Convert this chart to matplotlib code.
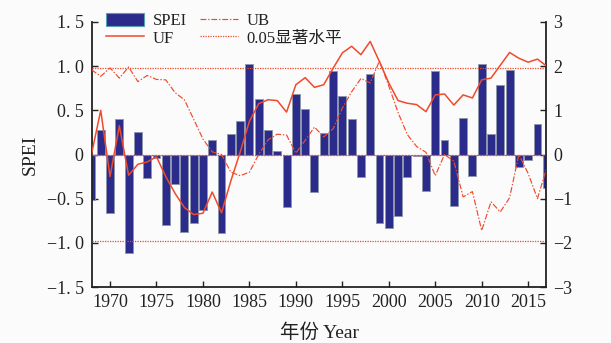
import matplotlib
matplotlib.use('Agg')
import matplotlib.pyplot as plt
from matplotlib.patches import Patch
from matplotlib.lines import Line2D

# ---------------- data ----------------
years = list(range(1968, 2018))
spei = [-0.52, 0.28, -0.66, 0.40, -1.11, 0.25, -0.265, -0.04, -0.80, -0.33,
        -0.875, -0.77, -0.63, 0.16, -0.89, 0.23, 0.38, 1.02, 0.63, 0.28,
        0.04, -0.59, 0.68, 0.51, -0.42, 0.24, 0.95, 0.66, 0.405, -0.26,
        0.91, -0.77, -0.83, -0.70, -0.25, -0.02, -0.41, 0.95, 0.16, -0.58,
        0.41, -0.24, 1.03, 0.235, 0.79, 0.96, -0.14, -0.065, 0.35, -0.38]
uf = [0.0, 1.0, -0.5, 0.65, -0.47, -0.22, -0.17, -0.05, -0.5, -0.88,
      -1.2, -1.36, -1.33, -0.85, -1.32, -0.6, 0.05, 0.75, 1.15, 1.24,
      1.22, 0.96, 1.58, 1.74, 1.52, 1.58, 1.95, 2.3, 2.45, 2.26,
      2.56, 2.1, 1.62, 1.22, 1.16, 1.13, 0.97, 1.35, 1.37, 1.12,
      1.35, 1.28, 1.69, 1.73, 2.02, 2.31, 2.18, 2.09, 2.16, 2.0]
ub = [1.92, 1.77, 1.96, 1.73, 1.98, 1.65, 1.79, 1.70, 1.69, 1.40,
      1.24, 0.80, 0.35, 0.06, 0.0, -0.40, -0.48, -0.40, 0.0, 0.33,
      0.46, 0.44, 0.03, 0.32, 0.62, 0.40, 0.58, 1.05, 1.42, 1.72,
      1.62, 2.12, 1.55, 0.95, 0.45, 0.18, 0.05, -0.48, 0.0, -0.15,
      -0.96, -0.84, -1.72, -1.07, -1.30, -0.98, 0.0, -0.43, -1.0, -0.3]
sig_level = 1.96

x_ticks = [1970, 1975, 1980, 1985, 1990, 1995, 2000, 2005, 2010, 2015]
left_ticks = [-1.5, -1.0, -0.5, 0, 0.5, 1.0, 1.5]
left_labels = ['\u22121. 5', '\u22121. 0', '\u22120. 5', '0', '0. 5', '1. 0', '1. 5']
right_ticks = [-3, -2, -1, 0, 1, 2, 3]
right_labels = ['\u22123', '\u22122', '\u22121', '0', '1', '2', '3']

legend_labels = ['SPEI', 'UF', 'UB', '0.05显著水平']
xlabel = '年份 Year'
ylabel = 'SPEI'

# ---------------- style ----------------
plt.rcParams['font.family'] = ['Liberation Serif', 'Noto Sans CJK SC']
plt.rcParams['axes.unicode_minus'] = True
red = '#f04a2c'
bar_col = '#2b2b8c'
ub_dash = (0, (5, 1.5, 1.2, 1.5))

fig = plt.figure(figsize=(6.11, 3.43), dpi=100)
fig.patch.set_facecolor('#fbfbfb')
ax = fig.add_axes([92/611, 1-287/343, (546-92)/611, (287-22)/343])
ax.set_facecolor('none')

ax.bar(years, spei, width=0.85, color=bar_col, edgecolor='#8d96a8',
       linewidth=0.6, zorder=2)
ax.set_xlim(1968.06, 2016.92)
ax.set_ylim(-1.5, 1.5)

ax2 = ax.twinx()
ax2.set_ylim(-3, 3)
ax2.plot(years, uf, color=red, lw=1.1, zorder=3)
ax2.plot(years, ub, color=red, lw=0.85, ls=ub_dash, zorder=3)
ax2.axhline(sig_level, color=red, lw=0.9, ls=(0, (1, 1)), zorder=1)
ax2.axhline(-sig_level, color=red, lw=0.9, ls=(0, (1, 1)), zorder=1)
ax2.axhline(0, color=red, lw=0.9, ls=(0, (1.5, 1)), zorder=4)

# ticks
ax.set_xticks(x_ticks)
ax.set_xticklabels([str(t) for t in x_ticks])
ax.set_yticks(left_ticks)
ax.set_yticklabels(left_labels)
ax2.set_yticks(right_ticks)
ax2.set_yticklabels(right_labels)

for a in (ax, ax2):
    a.tick_params(direction='in', length=4, width=1.0, labelsize=13, colors='#222222')
    a.spines['top'].set_visible(False)
    for s in a.spines.values():
        s.set_linewidth(1.3)
        s.set_color('#222222')
ax.tick_params(axis='y', pad=6)
ax.tick_params(axis='x', pad=5)
ax2.tick_params(axis='y', pad=5)
ax2.spines['left'].set_visible(False)
ax2.spines['bottom'].set_visible(False)
ax.spines['right'].set_visible(False)

ax.set_ylabel(ylabel, fontsize=14, color='#222222')
ax.yaxis.set_label_coords(-0.118, 0.5)
ax.set_xlabel(xlabel, fontsize=14, color='#222222', labelpad=9)

handles = [Patch(facecolor=bar_col, edgecolor='#5aa0b0', lw=0.8),
           Line2D([], [], color=red, lw=1.1),
           Line2D([], [], color=red, lw=0.85, ls=ub_dash),
           Line2D([], [], color=red, lw=0.9, ls=(0, (1, 1)))]
leg = ax2.legend(handles, legend_labels, ncol=2, loc='upper left',
                 bbox_to_anchor=(106/611, 1-13/343), bbox_transform=fig.transFigure,
                 frameon=False, fontsize=12, handlelength=2.3, handleheight=0.85,
                 handletextpad=0.5, columnspacing=0.8, labelspacing=0.05,
                 borderpad=0, borderaxespad=0)
for t in leg.get_texts():
    t.set_color('#222222')

fig.savefig('out.png', dpi=100, facecolor=fig.get_facecolor())
